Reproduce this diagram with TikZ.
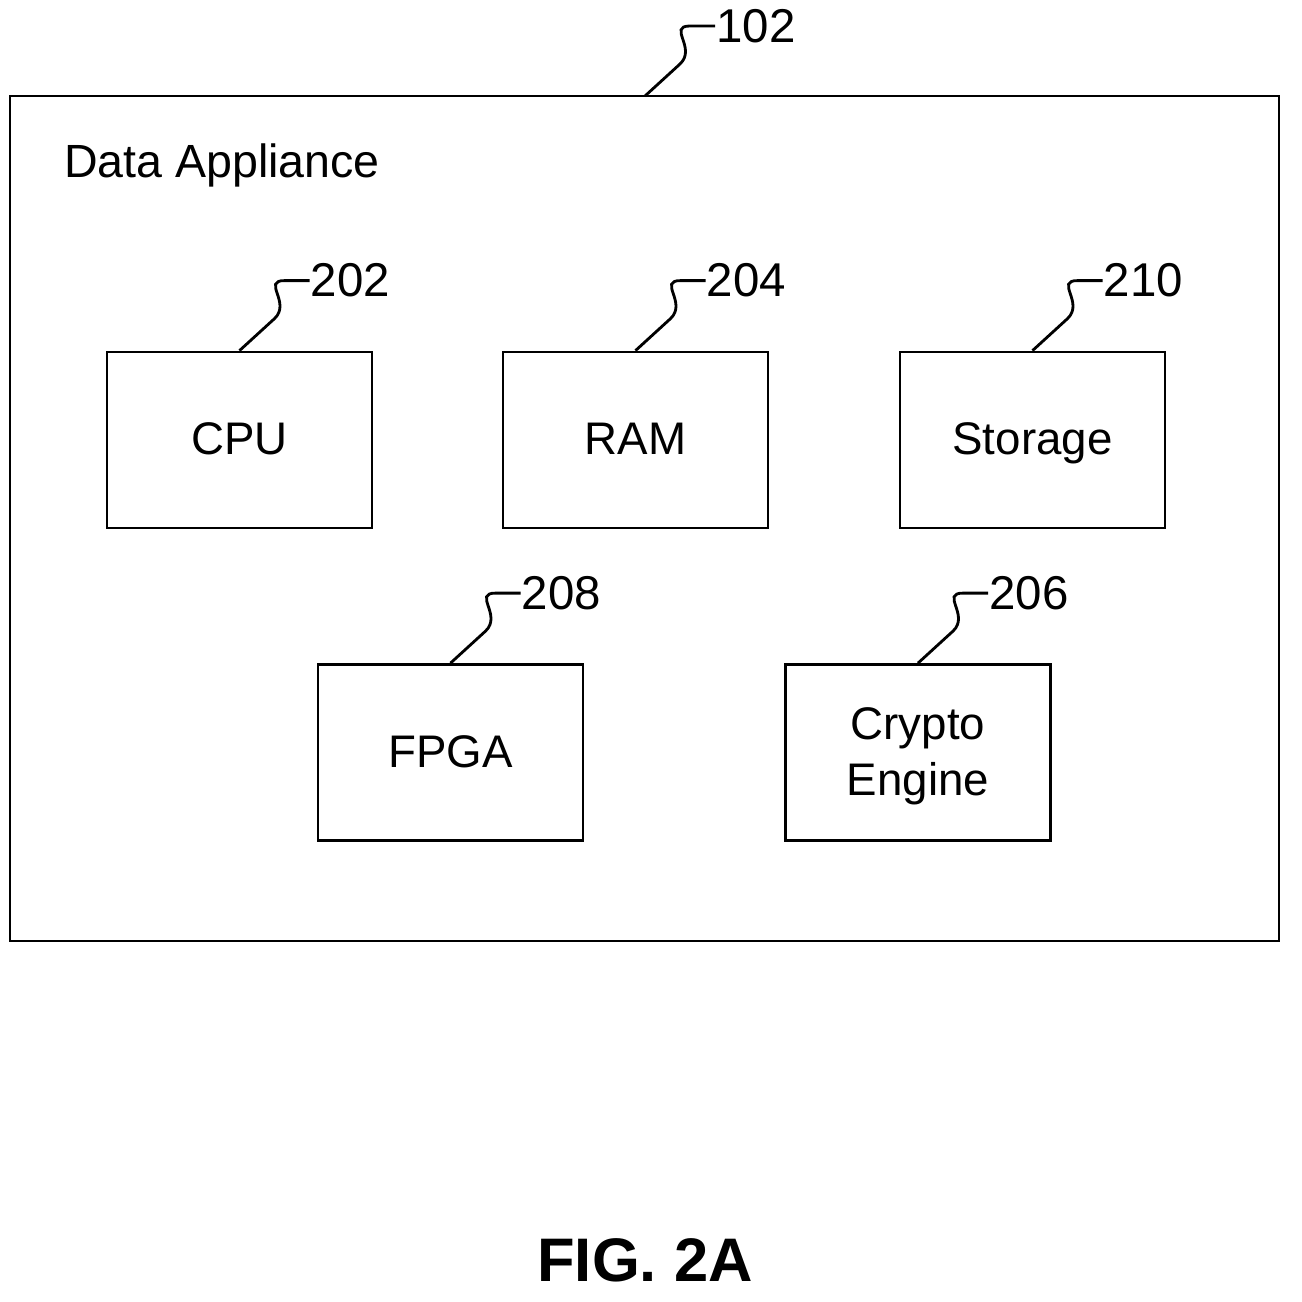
\documentclass[tikz,border=0pt]{standalone}
\usepackage{fontspec}
\setmainfont{Liberation Sans}
\usetikzlibrary{positioning,calc}
\tikzset{
	unit/.style={draw,line width=1.6pt,minimum width=5.3cm,minimum height=3.52cm,font=\fontsize{26}{32}\selectfont,align=center,text depth=0.25ex},
	ref/.style={font=\fontsize{27}{30}\selectfont,anchor=west,inner sep=0pt},
	lead/.style={line width=1.6pt}
}
\newcommand{\leadto}[3]{% node, label name, text
	\draw[lead] (#1) -- ($(#1)+(35,-32)$) .. controls ($(#1)+(52,-48)$) and ($(#1)+(22,-70)$) .. ($(#1)+(45,-70)$) -- ($(#1)+(70,-70)$) node[ref] (#2) {#3};
}
\begin{document}
\begin{tikzpicture}[x=0.02cm,y=-0.02cm]
	\useasboundingbox (0,0) rectangle (1302,1302);
	\draw[line width=1.6pt] (10,96) rectangle (1279,941);
	\coordinate (top) at (645,96);
	\node[anchor=west,font=\fontsize{26.5}{30}\selectfont] (title) at (58,165) {Data Appliance};
	\node[unit] (cpu) at (239.5,440) {CPU};
	\node[unit] (ram) at (635.5,440) {RAM};
	\node[unit] (storage) at (1032.5,440) {Storage};
	\node[unit] (fpga) at (450.5,752.5) {FPGA};
	\node[unit] (crypto) at (918,752.5) {Crypto\\Engine};
	% reference numerals
	\leadto{top}{n102}{102}
	\leadto{cpu.north}{n202}{202}
	\leadto{ram.north}{n204}{204}
	\leadto{storage.north}{n210}{210}
	\leadto{fpga.north}{n208}{208}
	\leadto{crypto.north}{n206}{206}
	\node[font=\bfseries\fontsize{35}{40}\selectfont] (fig) at (645,1260) {FIG. 2A};
\end{tikzpicture}
\end{document}
